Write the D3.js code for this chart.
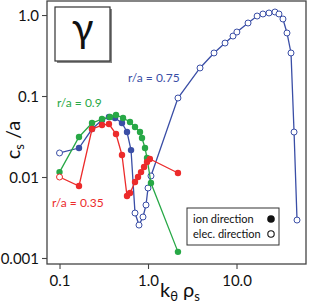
<!DOCTYPE html>
<html lang="en">
    <head>
        <meta charset="utf-8">
        <title>gamma vs k rho</title>
        <script type="text/javascript" src="https://cdn.jsdelivr.net/npm/d3@7"></script>
        <style>
            body { margin: 0; background: #fff; }
            text { font-family: Lato, "Open Sans", sans-serif; }
        </style>
    </head>
    <body>
        <script type="text/javascript">
            //data (ion = 1 filled, elec = 0 open)
            var blueK   = [0.1, 0.166, 0.233, 0.302, 0.362, 0.424, 0.508, 0.579, 0.643,
                           0.713, 0.791, 0.878, 0.949, 1.0, 1.08, 2.18, 3.87, 5.57, 7.42, 9.13,
                           10.1, 13.5, 17.1, 19.9, 23.3, 27.2, 30.2, 33.5, 37.2, 41.3, 44.7, 48.3];
            var blueG   = [0.0198, 0.0228, 0.0391, 0.0505, 0.0551, 0.0535, 0.0464, 0.0359, 0.0215,
                           0.00359, 0.00255, 0.00321, 0.00451, 0.00731, 0.0103, 0.0945, 0.222, 0.340, 0.451, 0.550,
                           0.617, 0.797, 0.972, 1.03, 1.06, 1.09, 1.03, 0.893, 0.600, 0.340, 0.0359, 0.00294];
            var blueDir = [0, 1, 1, 1, 1, 1, 1, 1, 1,
                           0, 0, 0, 0, 0, 0, 0, 0, 0, 0, 0,
                           0, 0, 0, 0, 0, 0, 0, 0, 0, 0, 0, 0];

            var greenK   = [0.1, 0.166, 0.233, 0.302, 0.372, 0.435, 0.522, 0.626, 0.713, 0.812,
                            0.855, 0.925, 0.974, 1.08, 2.18];
            var greenG   = [0.0115, 0.0312, 0.0464, 0.0520, 0.0551, 0.0583, 0.0535, 0.0477, 0.0414, 0.0359,
                            0.0303, 0.0228, 0.0172, 0.00843, 0.00119];
            var greenDir = [1, 1, 1, 1, 1, 1, 1, 1, 1, 1, 1, 1, 1, 1, 1];

            var redK   = [0.1, 0.166, 0.233, 0.302, 0.362, 0.435, 0.508, 0.579, 0.626, 0.713,
                          0.771, 0.834, 0.902, 0.974, 1.05, 2.18];
            var redG   = [0.0100, 0.00774, 0.0391, 0.0438, 0.0451, 0.0339, 0.0187, 0.00582, 0.00634, 0.00867,
                          0.0100, 0.0115, 0.0133, 0.0153, 0.0167, 0.0112];
            var redDir = [0, 1, 1, 1, 1, 1, 1, 1, 1, 1, 1, 1, 1, 1, 1, 1];

            var xTicks = [0.1, 1, 10];
            var xTickLabels = ["0.1", "1.0", "10.0"];
            var yTicks = [1, 0.1, 0.01, 0.001];
            var yTickLabels = ["1.0", "0.1", "0.01", "0.001"];

            var seriesNames = ["r/a = 0.75", "r/a = 0.9", "r/a = 0.35"];
            var legendNames = ["ion direction", "elec. direction"];

            //width and height
            var svgWidth = 309;
            var svgHeight = 305;
            var padLeft = 47, padRight = 306, padTop = 1, padBottom = 264;

            var svg = d3.select("body")
                        .append("svg")
                        .attr("width", svgWidth)
                        .attr("height", svgHeight);

            var xScale = d3.scaleLog()
                           .domain([0.0722, 61])
                           .range([padLeft, padRight]);
            var yScale = d3.scaleLog()
                           .domain([0.000843, 1.49])
                           .range([padBottom, padTop]);

            //minor ticks
            var xMinor = [];
            [0.01, 0.1, 1, 10].forEach(function(b) {
                for (var i = 2; i <= 9; i++) {
                    var v = b * i;
                    if (v > 0.0722 && v < 61) xMinor.push(v);
                }
            });
            var yMinor = [];
            [0.0001, 0.001, 0.01, 0.1, 1].forEach(function(b) {
                for (var i = 2; i <= 9; i++) {
                    var v = b * i;
                    if (v > 0.000843 && v < 1.49) yMinor.push(v);
                }
            });

            //frame
            svg.append("rect")
               .attr("x", padLeft)
               .attr("y", padTop)
               .attr("width", padRight - padLeft)
               .attr("height", padBottom - padTop)
               .attr("fill", "none")
               .attr("stroke", "#444")
               .attr("stroke-width", 1.3);

            var xAxis = d3.axisBottom(xScale)
                          .tickValues(xTicks)
                          .tickSize(5)
                          .tickFormat(function(d, i) { return xTickLabels[i]; });
            var xAxisMinor = d3.axisBottom(xScale)
                               .tickValues(xMinor)
                               .tickSize(3)
                               .tickFormat("");
            var yAxis = d3.axisLeft(yScale)
                          .tickValues(yTicks)
                          .tickSize(5)
                          .tickFormat(function(d, i) { return yTickLabels[i]; });
            var yAxisMinor = d3.axisLeft(yScale)
                               .tickValues(yMinor)
                               .tickSize(3)
                               .tickFormat("");

            var gx = svg.append("g").attr("transform", "translate(0," + padBottom + ")");
            gx.call(xAxisMinor);
            gx.call(xAxis);
            var gy = svg.append("g").attr("transform", "translate(" + padLeft + ",0)");
            gy.call(yAxisMinor);
            gy.call(yAxis);

            svg.selectAll(".domain").remove();
            svg.selectAll(".tick line").attr("stroke", "#444").attr("stroke-width", 1.1);
            gx.selectAll("text").attr("font-size", "15px").attr("fill", "#111").attr("dy", "0.95em");
            gy.selectAll("text").attr("font-size", "15px").attr("fill", "#111").attr("dy", "0.36em");

            //series
            var series = [
                {k: blueK, g: blueG, dir: blueDir, color: "#3a4ea6"},
                {k: greenK, g: greenG, dir: greenDir, color: "#27a846"},
                {k: redK, g: redG, dir: redDir, color: "#ec2b2b"}
            ];

            var line = d3.line()
                         .x(function(d) { return xScale(d[0]); })
                         .y(function(d) { return yScale(d[1]); });

            series.forEach(function(s) {
                var pts = s.k.map(function(k, i) { return [k, s.g[i], s.dir[i]]; });
                svg.append("path")
                   .datum(pts)
                   .attr("d", line)
                   .attr("fill", "none")
                   .attr("stroke", s.color)
                   .attr("stroke-width", 1.3);
                svg.append("g")
                   .selectAll("circle")
                   .data(pts)
                   .enter()
                   .append("circle")
                   .attr("cx", function(d) { return xScale(d[0]); })
                   .attr("cy", function(d) { return yScale(d[1]); })
                   .attr("r", function(d) { return d[2] ? 3.2 : 3; })
                   .attr("fill", function(d) { return d[2] ? s.color : "#fff"; })
                   .attr("stroke", s.color)
                   .attr("stroke-width", function(d) { return d[2] ? 0 : 1; });
            });

            //series labels
            svg.append("text").attr("x", 128).attr("y", 82)
               .attr("font-size", "12px").attr("fill", "#3a4ea6").text(seriesNames[0]);
            svg.append("text").attr("x", 57).attr("y", 107)
               .attr("font-size", "12px").attr("fill", "#27a846").text(seriesNames[1]);
            svg.append("text").attr("x", 52).attr("y", 207)
               .attr("font-size", "12px").attr("fill", "#ec2b2b").text(seriesNames[2]);

            //gamma box with shadow
            svg.append("rect").attr("x", 57).attr("y", 9).attr("width", 55).attr("height", 54)
               .attr("fill", "#888");
            svg.append("rect").attr("x", 55).attr("y", 7).attr("width", 55).attr("height", 54)
               .attr("fill", "#fff").attr("stroke", "#333").attr("stroke-width", 1.2);
            svg.append("text").attr("x", 82.5).attr("y", 42)
               .attr("font-size", "40px").attr("text-anchor", "middle")
               .attr("font-family", "DejaVu Serif").attr("fill", "#111").text("γ");

            //legend
            svg.append("rect").attr("x", 187).attr("y", 208).attr("width", 92).attr("height", 37)
               .attr("fill", "#fff").attr("stroke", "#333").attr("stroke-width", 1);
            svg.append("text").attr("x", 193).attr("y", 223)
               .attr("font-size", "11px").attr("fill", "#111").text(legendNames[0]);
            svg.append("text").attr("x", 193).attr("y", 238)
               .attr("font-size", "11px").attr("fill", "#111").text(legendNames[1]);
            svg.append("circle").attr("cx", 271).attr("cy", 219).attr("r", 3.8).attr("fill", "#111");
            svg.append("circle").attr("cx", 271).attr("cy", 234).attr("r", 3.2)
               .attr("fill", "#fff").attr("stroke", "#111").attr("stroke-width", 1.1);

            //axis titles
            var xt = svg.append("text").attr("x", 180).attr("y", 297)
                        .attr("font-size", "20px").attr("text-anchor", "middle").attr("fill", "#111");
            xt.append("tspan").text("k");
            xt.append("tspan").attr("font-size", "13px").attr("dy", "4").text("θ");
            xt.append("tspan").attr("dy", "-4").text(" ρ");
            xt.append("tspan").attr("font-size", "13px").attr("dy", "4").text("s");

            var yt = svg.append("text").attr("transform", "translate(20,140) rotate(-90)")
                        .attr("font-size", "20px").attr("text-anchor", "middle").attr("fill", "#111");
            yt.append("tspan").text("c");
            yt.append("tspan").attr("font-size", "13px").attr("dy", "4").text("s");
            yt.append("tspan").attr("dy", "-4").text(" /a");
        </script>
    </body>
</html>
